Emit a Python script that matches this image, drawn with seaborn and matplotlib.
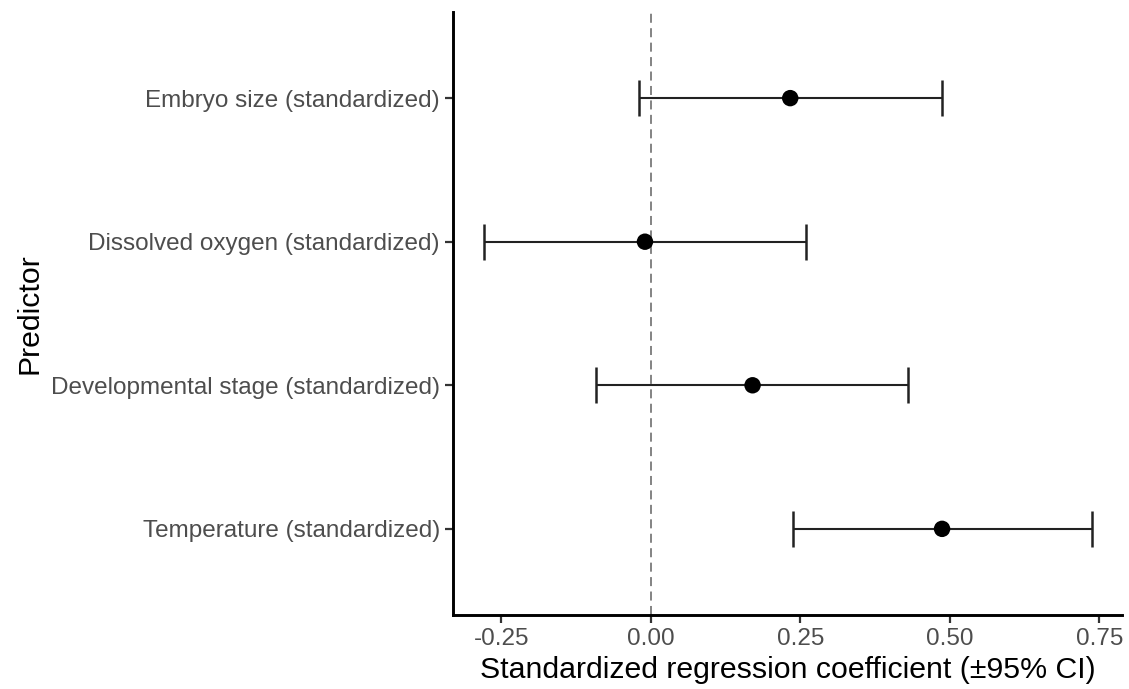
import pandas as pd
import matplotlib
matplotlib.use("Agg")
import matplotlib.pyplot as plt
import seaborn as sns

# coefficient table (top to bottom)
predictors = ["Embryo size (standardized)",
              "Dissolved oxygen (standardized)",
              "Developmental stage (standardized)",
              "Temperature (standardized)"]
estimate = [0.233, -0.010, 0.170, 0.487]
ci_low = [-0.020, -0.280, -0.092, 0.238]
ci_high = [0.487, 0.260, 0.430, 0.737]

df = pd.DataFrame({"predictor": predictors, "estimate": estimate,
                   "low": ci_low, "high": ci_high})

sns.set_theme(style="ticks")
plt.rcParams["font.family"] = ["Liberation Sans", "DejaVu Sans"]

fig = plt.figure(figsize=(11.29, 6.89), dpi=100)
ax = fig.add_axes([0.4013, 0.1074, 0.5925, 0.8752])

ax.axvline(0, color="#7a7a7a", lw=1.3, ls=(0, (5, 3)), zorder=1)
ax.errorbar(df.estimate, df.predictor,
            xerr=[df.estimate - df.low, df.high - df.estimate],
            fmt="none", ecolor="#222222", elinewidth=1.5, capsize=13,
            capthick=1.8, zorder=2)
sns.scatterplot(data=df, x="estimate", y="predictor", ax=ax, color="black",
                s=140, edgecolor="none", zorder=3)

ax.set_xlim(-0.331, 0.788)
ax.set_ylim(3.6, -0.6)
ax.set_xticks([-0.25, 0, 0.25, 0.5, 0.75])
ax.set_xticklabels(["-0.25", "0.00", "0.25", "0.50", "0.75"])

for s in ["top", "right"]:
    ax.spines[s].set_visible(False)
for s in ["left", "bottom"]:
    ax.spines[s].set_linewidth(2.1)
    ax.spines[s].set_color("black")
ax.tick_params(axis="both", length=5.5, width=1.6, color="#333333",
               labelsize=17.5, labelcolor="#4D4D4D", pad=4)

ax.set_xlabel("Standardized regression coefficient (±95% CI)",
              fontsize=21.8, color="black", labelpad=4)
ax.set_ylabel("Predictor", fontsize=21.8, color="black", labelpad=5)

fig.savefig("out.png", dpi=100)
